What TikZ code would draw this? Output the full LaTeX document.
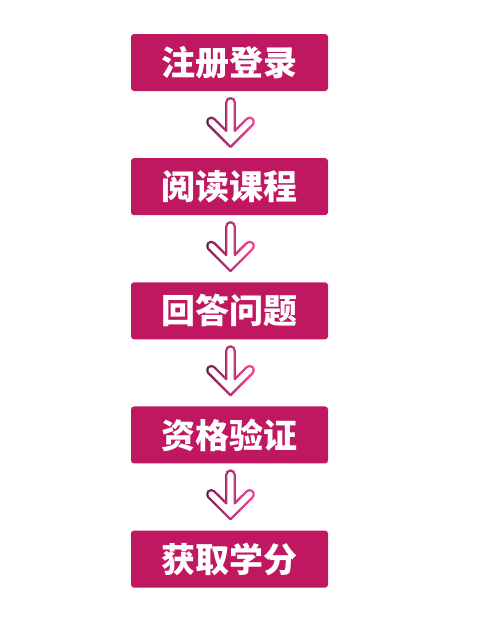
\documentclass[tikz,border=0pt]{standalone}
\usepackage{fontspec}
\usepackage{tikz}
\usetikzlibrary{positioning}
\newfontfamily\cjk{Noto Sans CJK SC}
\definecolor{boxcol}{RGB}{191,24,96}
\definecolor{arrowl}{RGB}{112,20,76}
\definecolor{arrowr}{RGB}{250,52,140}

\tikzset{
downarrow/.pic={
	%cut the outline into thin stripes to get the colour run from left to right
	\foreach \i in {0,...,23}{
		\pgfmathtruncatemacro{\p}{100-\i*100/23}
		\begin{scope}
			\clip (-24.1+2*\i,-3) rectangle (-21.9+2*\i,52);
			\draw[arrowl!\p!arrowr, line width=2.2pt, line join=round]
				(0,0) -- (-22.17,22.13) arc[start angle=225, end angle=45, radius=4.2]
				-- (-4.2,16.08) -- (-4.2,44.7) arc[start angle=180, end angle=0, radius=4.2]
				-- (4.2,16.08) -- (16.23,28.07) arc[start angle=135, end angle=-45, radius=4.2]
				-- cycle;
		\end{scope}
	}
}}

\begin{document}
\begin{tikzpicture}[x=1pt,y=1pt,
stepbox/.style={fill=boxcol, rounded corners=3pt, minimum width=197pt, minimum height=57pt,
	inner sep=0pt, text=white, font=\cjk\bfseries\fontsize{34}{34}\selectfont},
node distance=66.75pt]
\useasboundingbox (0,0) rectangle (497,-630);
\node[stepbox](s1) at (229.5,-62.5) {注册登录};
\node[stepbox, below=of s1](s2) {阅读课程};
\node[stepbox, below=of s2](s3) {回答问题};
\node[stepbox, below=of s3](s4) {资格验证};
\node[stepbox, below=of s4](s5) {获取学分};

%arrows sit just above the next step
\foreach \a/\b in {s1/s2,s2/s3,s3/s4,s4/s5}
	\pic at ([xshift=1pt,yshift=11pt]\b.north) {downarrow};
\end{tikzpicture}
\end{document}
